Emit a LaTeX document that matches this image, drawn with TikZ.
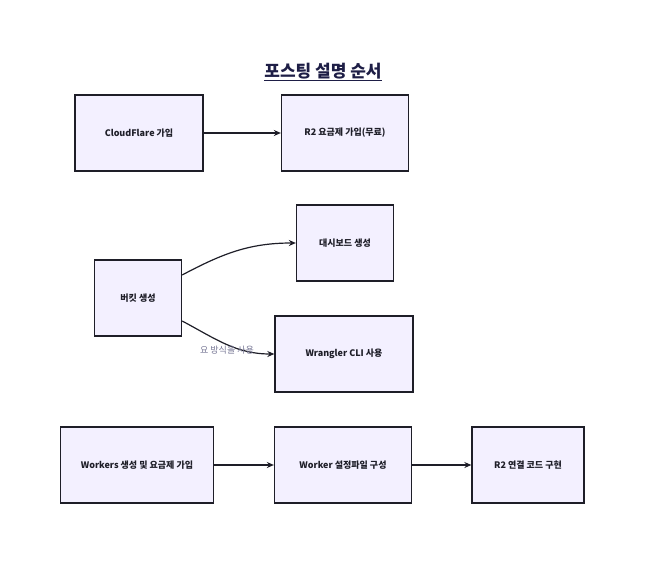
\documentclass[tikz,border=0pt]{standalone}
\usepackage{fontspec}
\setmainfont{Noto Sans CJK KR}
\usepackage{xcolor}
\definecolor{boxfill}{RGB}{243,240,255}
\definecolor{ink}{RGB}{30,30,40}
\definecolor{titleink}{RGB}{30,30,70}
\definecolor{labelgray}{RGB}{120,120,150}
\usepackage{tikz}
\usetikzlibrary{arrows.meta, positioning}

\begin{document}
\begin{tikzpicture}[
        x=1pt, y=-1pt,
        box/.style={rectangle, draw=ink, fill=boxfill, line width=1.3pt, minimum height=76pt, font=\small\bfseries, text=ink},
        flow/.style={-{Stealth[length=7pt, width=6pt]}, line width=1.2pt, ink},
        note/.style={font=\small, text=labelgray}
    ]
        \useasboundingbox (0,0) rectangle (650,564);

        \node[font=\fontsize{17}{20}\selectfont\bfseries, text=titleink] (title) at (323,72) {\underline{포스팅 설명 순서}};

        % first row
        \node[box, minimum width=128pt] (cloudflare) at (139,133) {CloudFlare 가입};
        \node[box, minimum width=127pt] (plan) at (345,133) {R2 요금제 가입(무료)};

        % bucket
        \node[box, minimum width=87pt] (bucket) at (138,298) {버킷 생성};
        \node[box, minimum width=97pt] (dashboard) at (345,243) {대시보드 생성};
        \node[box, minimum width=138pt] (wrangler) at (344,354) {Wrangler CLI 사용};

        % workers
        \node[box, minimum width=153pt] (workers) at (137,465) {Workers 생성 및 요금제 가입};
        \node[box, minimum width=137pt] (config) at (343,465) {Worker 설정파일 구성};
        \node[box, minimum width=112pt] (code) at (528,465) {R2 연결 코드 구현};

        \draw[flow] (cloudflare) -- (plan);
        \draw[flow] ([yshift=23pt]bucket.east) to[out=28, in=180] (dashboard.west);
        \draw[flow] ([yshift=-23pt]bucket.east) to[out=-28, in=180] (wrangler.west);
        \node[note] (either) at (227,350) {요 방식을 사용};
        \draw[flow] (workers) -- (config);
        \draw[flow] (config) -- (code);
    \end{tikzpicture}
\end{document}
